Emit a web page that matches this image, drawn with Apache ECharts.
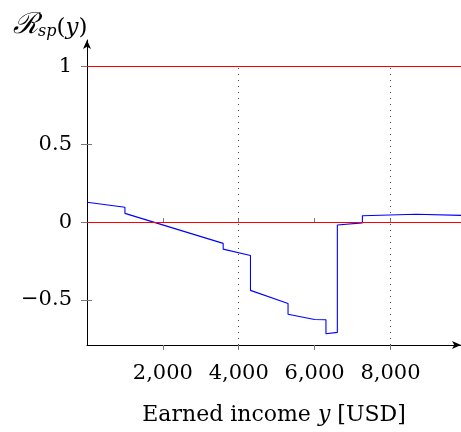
<!DOCTYPE html>
<html><head><meta charset="utf-8">
<script src="https://cdn.jsdelivr.net/npm/echarts@6/dist/echarts.min.js"></script>
<style>html,body{margin:0;padding:0;background:#fff}#c{width:461px;height:432px}</style>
</head><body><div id="c"></div>
<script>
// Data
const incomeX = [0, 1000, 1000, 3590, 3590, 4310, 4310, 5300, 5300, 6000, 6300, 6300, 6600, 6600, 7260, 7260, 8680, 9860];
const rspY    = [0.127, 0.095, 0.056, -0.137, -0.174, -0.215, -0.439, -0.523, -0.592, -0.626, -0.628, -0.718, -0.709, -0.019, -0.005, 0.041, 0.050, 0.043];
const xTicks = [2000, 4000, 6000, 8000];
const yTicks = [-0.5, 0, 0.5, 1];
const refLinesY = [0, 1];
const dottedX = [4000, 8000];
const xMin = 0, xMax = 9860, yMin = -0.79, yMax = 1.17, dottedTop = 1;

const FONT = 'DejaVu Serif';
const chart = echarts.init(document.getElementById('c'), null, {renderer: 'canvas'});
const fmtX = v => Number(v).toLocaleString('en-US');
const fmtY = v => (v < 0 ? '\u2212' + Math.abs(v) : String(v));
const tickStyle = {color: '#777', width: 1};

const option = {
  animation: false,
  backgroundColor: '#fff',
  title: {
    left: 8, top: 3,
    text: '{R|\u211B}{s|sp}{n|(}{i|y}{n|)}',
    textStyle: {
      fontWeight: 'normal',
      rich: {
        R: {fontFamily: FONT, fontSize: 29, fontWeight: 'normal', fontStyle: 'italic', color: '#000', lineHeight: 32, verticalAlign: 'bottom'},
        s: {fontFamily: FONT, fontSize: 16, fontWeight: 'normal', fontStyle: 'italic', color: '#000', lineHeight: 12, verticalAlign: 'bottom'},
        n: {fontFamily: FONT, fontSize: 23, fontWeight: 'normal', color: '#000', lineHeight: 32, verticalAlign: 'bottom'},
        i: {fontFamily: FONT, fontSize: 23, fontWeight: 'normal', fontStyle: 'italic', color: '#000', lineHeight: 32, verticalAlign: 'bottom'}
      }
    }
  },
  grid: {left: 87, right: 0, top: 40, bottom: 87, containLabel: false},
  xAxis: [{
    type: 'value', min: xMin, max: xMax, position: 'bottom',
    axisLine: {show: true, onZero: false, lineStyle: {color: '#000', width: 1}, symbol: ['none', 'arrow'], symbolSize: [6, 9]},
    axisTick: {show: true, length: 5, inside: false, lineStyle: tickStyle, customValues: xTicks},
    axisLabel: {show: true, margin: 18, color: '#000', fontFamily: FONT, fontSize: 21, formatter: fmtX, customValues: xTicks},
    splitLine: {show: false},
    name: '{t|Earned income }{i|y}{t| [USD]}',
    nameLocation: 'middle', nameGap: 59,
    nameTextStyle: {rich: {
      t: {fontFamily: FONT, fontSize: 22, color: '#000'},
      i: {fontFamily: FONT, fontSize: 22, fontStyle: 'italic', color: '#000'}
    }}
  }, {
    type: 'value', min: xMin, max: xMax, position: 'bottom',
    axisLine: {show: false},
    axisTick: {show: true, length: 4, inside: true, lineStyle: tickStyle, customValues: xTicks},
    axisLabel: {show: false},
    splitLine: {show: false}
  }],
  yAxis: [{
    type: 'value', min: yMin, max: yMax, position: 'left',
    axisLine: {show: true, onZero: false, lineStyle: {color: '#000', width: 1}, symbol: ['none', 'arrow'], symbolSize: [6, 9]},
    axisTick: {show: true, length: 6, inside: false, lineStyle: tickStyle, customValues: yTicks},
    axisLabel: {show: true, margin: 15, color: '#000', fontFamily: FONT, fontSize: 21, formatter: fmtY, customValues: yTicks},
    splitLine: {show: false}
  }, {
    type: 'value', min: yMin, max: yMax, position: 'left',
    axisLine: {show: false},
    axisTick: {show: true, length: 5, inside: true, lineStyle: tickStyle, customValues: yTicks},
    axisLabel: {show: false},
    splitLine: {show: false}
  }],
  series: [{
    type: 'line',
    data: incomeX.map((x, i) => [x, rspY[i]]),
    showSymbol: false, symbol: 'none',
    lineStyle: {color: '#0000ff', width: 1.1},
    z: 3,
    markLine: {
      silent: true, symbol: ['none', 'none'], label: {show: false},
      animation: false,
      data: [
        ...refLinesY.map(v => ({yAxis: v, lineStyle: {color: '#ff0000', width: 1.1, type: 'solid'}})),
        ...dottedX.map(x => [
          {coord: [x, yMin], lineStyle: {color: '#444', width: 1, type: [1, 5]}},
          {coord: [x, dottedTop]}
        ])
      ]
    }
  }]
};
chart.setOption(option);
</script>
</body></html>
